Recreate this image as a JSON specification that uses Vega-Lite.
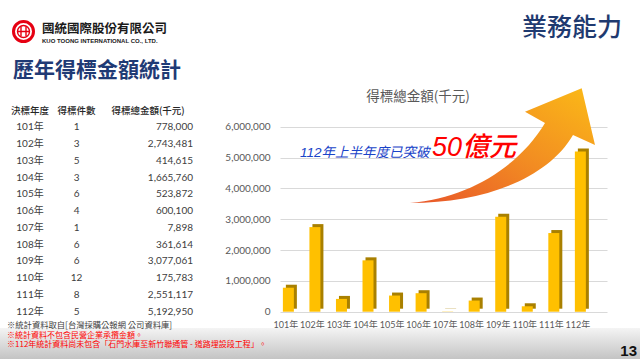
{
  "$schema": "https://vega.github.io/schema/vega-lite/v6.json",
  "width": 640,
  "height": 359,
  "autosize": "none",
  "padding": 0,
  "background": "#ffffff",
  "config": {"view": {"stroke": null}, "font": "Noto Sans CJK TC"},
  "datasets": {
    "bids": [
      {"year": "101年", "count": 1, "amount": 778000},
      {"year": "102年", "count": 3, "amount": 2743481},
      {"year": "103年", "count": 5, "amount": 414615},
      {"year": "104年", "count": 3, "amount": 1665760},
      {"year": "105年", "count": 6, "amount": 523872},
      {"year": "106年", "count": 4, "amount": 600100},
      {"year": "107年", "count": 1, "amount": 7898},
      {"year": "108年", "count": 6, "amount": 361614},
      {"year": "109年", "count": 6, "amount": 3077061},
      {"year": "110年", "count": 12, "amount": 175783},
      {"year": "111年", "count": 8, "amount": 2551117},
      {"year": "112年", "count": 5, "amount": 5192950}
    ],
    "heads": [{"col": "決標年度"}, {"col": "得標件數"}, {"col": "得標總金額(千元)"}],
    "one": [{}]
  },
  "resolve": {"scale": {"x": "independent", "y": "independent"}},
  "layer": [
    {"data": {"name": "one"}, "mark": {"type": "rect", "x": 0, "x2": 640, "y": 328, "y2": 359, "fill": {"gradient": "linear", "x1": 0, "y1": 0, "x2": 0, "y2": 1, "stops": [{"offset": 0, "color": "#f4f4f4"}, {"offset": 1, "color": "#c4c4c4"}]}}, "encoding": {}},
    {"data": {"name": "one"}, "mark": {"type": "point", "shape": "circle", "x": 23.5, "y": 31.5, "size": 400, "filled": false, "stroke": "#e60012", "strokeWidth": 3, "opacity": 1}, "encoding": {}},
    {"data": {"name": "one"}, "mark": {"type": "point", "shape": "circle", "x": 23.5, "y": 31.5, "size": 144, "filled": false, "stroke": "#e60012", "strokeWidth": 1.4, "opacity": 1}, "encoding": {}},
    {"data": {"name": "one"}, "mark": {"type": "point", "shape": "M-2.5,-5L-2.5,5M2.5,-5L2.5,5M-6,0L6,0", "x": 23.5, "y": 31.5, "size": 4, "filled": false, "stroke": "#e60012", "strokeWidth": 1.4, "opacity": 1}, "encoding": {}},
    {"data": {"name": "one"}, "mark": {"type": "text", "text": "國統國際股份有限公司", "x": 42, "y": 29, "align": "left", "baseline": "middle", "fontSize": 12.5, "fontWeight": "bold", "color": "#1a1a1a"}, "encoding": {}},
    {"data": {"name": "one"}, "mark": {"type": "text", "text": "KUO TOONG INTERNATIONAL CO., LTD.", "x": 42, "y": 40.5, "align": "left", "baseline": "middle", "fontSize": 6, "fontWeight": "bold", "font": "Liberation Sans", "color": "#1a1a1a"}, "encoding": {}},
    {"data": {"name": "one"}, "mark": {"type": "rule", "x": 12, "x2": 630, "y": 48, "y2": 48, "stroke": "#7f7f7f", "strokeWidth": 1.5}, "encoding": {}},
    {"data": {"name": "one"}, "mark": {"type": "text", "text": "業務能力", "x": 622, "y": 28, "align": "right", "baseline": "middle", "fontSize": 25, "fontWeight": 500, "color": "#1f3a70"}, "encoding": {}},
    {"data": {"name": "one"}, "mark": {"type": "text", "text": "歷年得標金額統計", "x": 13, "y": 71, "align": "left", "baseline": "middle", "fontSize": 21, "fontWeight": "bold", "color": "#1f3a75"}, "encoding": {}},
    {"data": {"name": "one"}, "mark": {"type": "rule", "x": 7, "x2": 194, "y": 97, "y2": 97, "stroke": "#404040", "strokeWidth": 2}, "encoding": {}},
    {"data": {"name": "one"}, "mark": {"type": "rule", "x": 7, "x2": 194, "y": 317, "y2": 317, "stroke": "#404040", "strokeWidth": 2}, "encoding": {}},
    {
      "data": {"name": "bids"},
      "encoding": {
        "y": {"field": "year", "type": "ordinal", "scale": {"type": "point", "domain": ["header", "101年", "102年", "103年", "104年", "105年", "106年", "107年", "108年", "109年", "110年", "111年", "112年"], "range": [110.5, 311.7], "padding": 0}, "axis": null}
      },
      "layer": [
        {"mark": {"type": "text", "align": "center", "baseline": "middle", "fontSize": 10, "color": "#404040", "font": "Lato, Noto Sans CJK TC"},
         "encoding": {"x": {"datum": "決標年度", "type": "nominal", "scale": {"type": "point", "domain": ["決標年度", "s1", "得標件數", "s2", "s3", "s4", "s5", "得標總金額(千元)"], "range": [30, 193], "padding": 0}, "axis": null}, "text": {"field": "year"}}},
        {"mark": {"type": "text", "align": "center", "baseline": "middle", "fontSize": 10, "color": "#404040", "font": "Lato, Noto Sans CJK TC"},
         "encoding": {"x": {"datum": "得標件數", "type": "nominal"}, "text": {"field": "count"}}},
        {"mark": {"type": "text", "align": "right", "baseline": "middle", "fontSize": 10, "color": "#404040", "font": "Lato, Noto Sans CJK TC"},
         "encoding": {"x": {"datum": "得標總金額(千元)", "type": "nominal"}, "text": {"field": "amount", "type": "quantitative", "format": ","}}},
        {"data": {"name": "heads"},
         "mark": {"type": "text", "align": "center", "baseline": "middle", "fontSize": 9.5, "fontWeight": 500, "color": "#262626", "dx": {"expr": "datum.col == '得標總金額(千元)' ? -45 : 0"}},
         "encoding": {"x": {"field": "col", "type": "nominal"}, "y": {"datum": "header", "type": "ordinal"}, "text": {"field": "col"}}}
      ]
    },
    {
      "data": {"name": "bids"},
      "encoding": {
        "x": {"field": "year", "type": "ordinal", "sort": null,
              "scale": {"type": "band", "domain": ["101年", "102年", "103年", "104年", "105年", "106年", "107年", "108年", "109年", "110年", "111年", "112年"], "range": [280, 607], "paddingInner": 0.5, "paddingOuter": 0.4095, "align": 0.08, "round": false},
              "axis": {"orient": "bottom", "offset": -46, "title": null, "domain": false, "ticks": false, "tickSize": 0, "grid": false, "labelPadding": 7, "labelFontSize": 9, "labelColor": "#595959", "labelFont": "Lato, Noto Sans CJK TC", "labelAngle": 0, "labelOffset": -2.5, "labelOverlap": false}},
        "y": {"field": "amount", "type": "quantitative",
              "scale": {"domain": [0, 6000000], "range": [311.7, 126.7], "nice": false, "zero": true},
              "axis": {"orient": "left", "offset": -276, "title": null, "domain": false, "ticks": false, "tickSize": 0, "labelPadding": 6, "values": [0, 1000000, 2000000, 3000000, 4000000, 5000000, 6000000], "labelExpr": "format(datum.value, ',')", "grid": true, "gridColor": "#d9d9d9", "gridWidth": 1, "labelFontSize": 10, "labelColor": "#595959", "labelFont": "Lato"}}
      },
      "layer": [
        {"mark": {"type": "bar", "width": 11, "color": "#a98000", "xOffset": 3, "yOffset": -3}},
        {"mark": {"type": "bar", "width": 11, "color": "#ffc000"}}
      ]
    },
    {"data": {"name": "one"},
     "mark": {"type": "point", "shape": "M-177,51.4 C-117,46.4 -67,13.4 -42,-28.6 L-62,-39.9 L-5.3,-63.3 L8,-6.6 L-14,-16.6 C-39,26.4 -102,51.4 -177,51.4 Z", "x": 587, "y": 151.6, "size": 4, "filled": true, "opacity": 1, "strokeWidth": 0,
              "fill": {"gradient": "linear", "x1": 0, "y1": 1, "x2": 1, "y2": 0, "stops": [{"offset": 0, "color": "#e8552a"}, {"offset": 0.5, "color": "#f28c22"}, {"offset": 1, "color": "#fbba17"}]}},
     "encoding": {}},
    {"data": {"name": "one"}, "mark": {"type": "text", "text": "得標總金額(千元)", "x": 418, "y": 96.5, "align": "center", "baseline": "middle", "fontSize": 13.5, "color": "#595959"}, "encoding": {}},
    {"data": {"name": "one"}, "mark": {"type": "text", "text": "112年上半年度已突破", "x": 300, "y": 153, "align": "left", "baseline": "middle", "fontSize": 13.5, "fontStyle": "italic", "color": "#1a44c8", "font": "Liberation Sans, Noto Sans CJK TC"}, "encoding": {}},
    {"data": {"name": "one"}, "mark": {"type": "text", "text": "50億元", "x": 432, "y": 148, "align": "left", "baseline": "middle", "fontSize": 27, "fontStyle": "italic", "fontWeight": 500, "color": "#ff0000", "font": "Liberation Sans, Noto Sans CJK TC"}, "encoding": {}},
    {"data": {"name": "one"}, "mark": {"type": "text", "text": "※統計資料取自[台灣採購公報網 公司資料庫]", "x": 7, "y": 325.5, "align": "left", "baseline": "middle", "fontSize": 8.3, "color": "#404040"}, "encoding": {}},
    {"data": {"name": "one"}, "mark": {"type": "text", "text": "※統計資料不包含民營企業承攬金額。", "x": 7, "y": 335.5, "align": "left", "baseline": "middle", "fontSize": 8, "color": "#ff0000"}, "encoding": {}},
    {"data": {"name": "one"}, "mark": {"type": "text", "text": "※112年統計資料尚未包含「石門水庫至新竹聯通管 - 道路埋設段工程」。", "x": 7, "y": 345, "align": "left", "baseline": "middle", "fontSize": 8, "color": "#ff0000"}, "encoding": {}},
    {"data": {"name": "one"}, "mark": {"type": "text", "text": "13", "x": 637, "y": 351, "align": "right", "baseline": "middle", "fontSize": 15, "fontWeight": "bold", "font": "Liberation Sans", "color": "#111111"}, "encoding": {}}
  ]
}
